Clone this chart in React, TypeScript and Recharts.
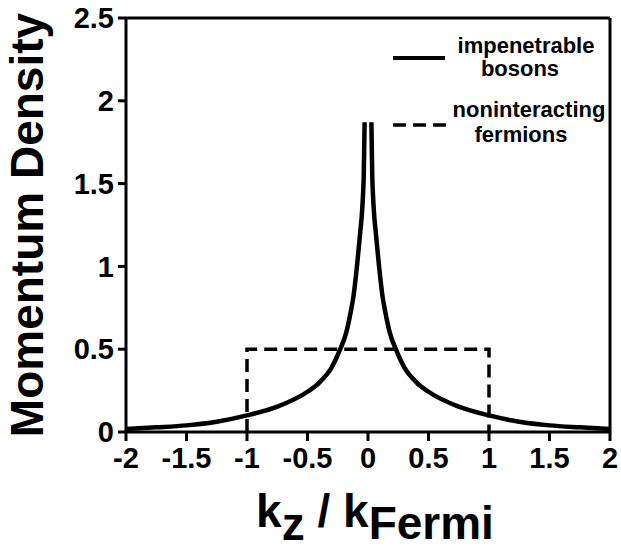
import React from 'react';
import { LineChart, Line, XAxis, YAxis, Legend, ReferenceLine } from 'recharts';

const bosonK = [
  -2, -1.75, -1.5, -1.25, -1, -0.75, -0.5, -0.4, -0.3, -0.23, -0.18, -0.145, -0.12, -0.09, -0.065, -0.05,
  -0.042, -0.035, -0.028, 0, 0.028, 0.035, 0.042, 0.05, 0.065, 0.09, 0.12, 0.145, 0.18, 0.23, 0.3, 0.4, 0.5,
  0.75, 1, 1.25, 1.5, 1.75, 2,
];
const bosonDensity: (number | null)[] = [
  0.018, 0.028, 0.04, 0.062, 0.1, 0.153, 0.243, 0.3, 0.39, 0.5, 0.6, 0.717, 0.82, 1.01, 1.2, 1.32,
  1.42, 1.55, 1.87, null, 1.87, 1.55, 1.42, 1.32, 1.2, 1.01, 0.82, 0.717, 0.6, 0.5, 0.39, 0.3, 0.243,
  0.153, 0.1, 0.062, 0.04, 0.028, 0.018,
];
const fermionK = [-1, -1, 1, 1];
const fermionDensity = [0, 0.5, 0.5, 0];

const xTicks = [-2, -1.5, -1, -0.5, 0, 0.5, 1, 1.5, 2];
const yTicks = [0, 0.5, 1, 1.5, 2, 2.5];

const bosons = bosonK.map((k, i) => ({ k, density: bosonDensity[i] }));
const fermions = fermionK.map((k, i) => ({ k, density: fermionDensity[i] }));

const FONT = '"Liberation Sans", Arial, Helvetica, sans-serif';
const tickStyle = { fill: '#000', fontSize: 29, fontWeight: 'bold', fontFamily: FONT };

const XLabel = () => (
  <text x={375} y={527} textAnchor="middle" fontSize={46} fontWeight="bold" fontFamily={FONT} fill="#000">
    k<tspan dy={13}>z</tspan>
    <tspan dy={-13}> / k</tspan>
    <tspan dy={12}>Fermi</tspan>
  </text>
);

const YLabel = () => (
  <text
    x={43}
    y={225}
    transform="rotate(-90 43 225)"
    textAnchor="middle"
    fontSize={46}
    fontWeight="bold"
    fontFamily={FONT}
    fill="#000"
  >
    Momentum Density
  </text>
);

const LegendBox = () => (
  <svg width={232} height={125} style={{ display: 'block' }}>
    <g fontFamily={FONT} fontWeight="bold" fontSize={22} fill="#000" textAnchor="middle">
      <line x1={3} x2={55} y1={30} y2={30} stroke="#000" strokeWidth={4} />
      <text x={136} y={25}>impenetrable</text>
      <text x={130} y={48}>bosons</text>
      <line x1={3} x2={57} y1={97} y2={97} stroke="#000" strokeWidth={3.5} strokeDasharray="13 7" />
      <text x={139} y={89}>noninteracting</text>
      <text x={131} y={114}>fermions</text>
    </g>
  </svg>
);

export default function App() {
  return (
    <div style={{ position: 'absolute', left: 0, top: 0, width: 621, height: 552, background: '#fff' }}>
      <LineChart width={621} height={552} margin={{ top: 18, right: 11, bottom: 0, left: 0 }}>
        <XAxis
          dataKey="k"
          type="number"
          domain={[-2, 2]}
          ticks={xTicks}
          interval={0}
          height={120}
          allowDuplicatedCategory={false}
          axisLine={{ stroke: '#000', strokeWidth: 3 }}
          tickLine={{ stroke: '#000', strokeWidth: 3 }}
          tickSize={9}
          tickMargin={6}
          tick={tickStyle}
          label={<XLabel />}
        />
        <YAxis
          type="number"
          domain={[0, 2.5]}
          ticks={yTicks}
          interval={0}
          width={126}
          allowDataOverflow
          axisLine={{ stroke: '#000', strokeWidth: 3 }}
          tickLine={{ stroke: '#000', strokeWidth: 3 }}
          tickSize={8}
          tickMargin={4}
          tick={tickStyle}
          label={<YLabel />}
        />
        <ReferenceLine y={2.5} stroke="#000" strokeWidth={3} ifOverflow="visible" />
        <ReferenceLine x={2} stroke="#000" strokeWidth={3} ifOverflow="visible" />
        <Legend
          layout="vertical"
          align="center"
          verticalAlign="middle"
          wrapperStyle={{ left: 390, top: 28, width: 232 }}
          content={() => <LegendBox />}
        />
        <Line
          data={fermions}
          dataKey="density"
          name="noninteracting fermions"
          type="linear"
          stroke="#000"
          strokeWidth={3.5}
          strokeDasharray="13 7"
          dot={false}
          activeDot={false}
          isAnimationActive={false}
        />
        <Line
          data={bosons}
          dataKey="density"
          name="impenetrable bosons"
          type="monotone"
          stroke="#000"
          strokeWidth={4.5}
          dot={false}
          activeDot={false}
          isAnimationActive={false}
        />
      </LineChart>
    </div>
  );
}
